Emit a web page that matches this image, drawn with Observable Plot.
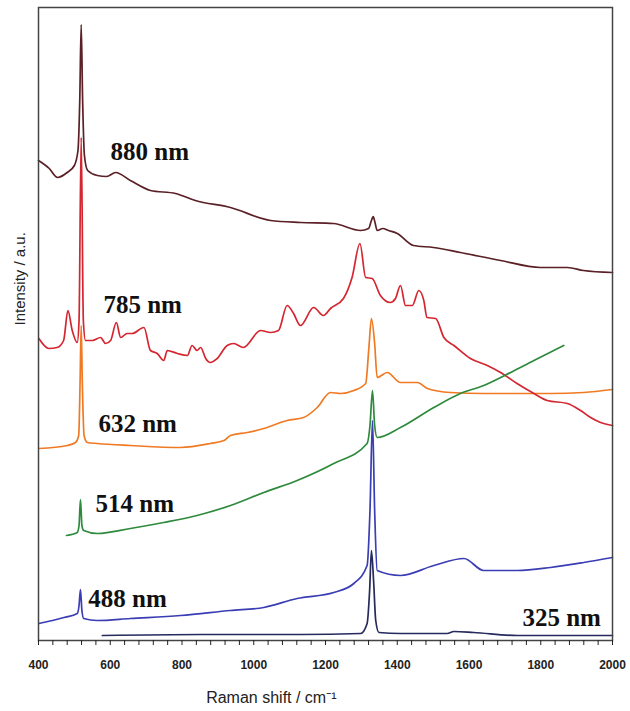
<!DOCTYPE html>
<html>
<head>
<meta charset="utf-8">
<script src="https://cdn.jsdelivr.net/npm/d3@7"></script>
<script src="https://cdn.jsdelivr.net/npm/@observablehq/plot@0.6"></script>
<style>
  html, body { margin: 0; padding: 0; background: #fff; }
  svg { font-family: "Liberation Sans", Arial, sans-serif; }
</style>
</head>
<body>
<div id="chart"></div>
<script>
// Raman shift (cm^-1) and intensity (a.u., offset stacked)
const s880 = [[400,480],[430,472],[453,463],[480,468],[500,475],[510,490],[515,540],[519,616],[523,540],[528,485],[537,470],[564,465],[590,464],[615,468],[656,460],[712,450],[782,447],[837,440],[935,433],[1047,420],[1130,418],[1222,417],[1298,410],[1320,412],[1328,420],[1333,424],[1338,418],[1344,410],[1360,412],[1376,410],[1400,407],[1445,395],[1501,393],[1576,388],[1688,380],[1799,373],[1875,373],[1919,370],[2000,368]];
const s785 = [[401,302],[429,292],[452,293],[470,300],[482,330],[494,310],[508,298],[513,320],[519,503],[525,320],[531,300],[550,300],[573,303],[587,297],[601,300],[617,318],[629,303],[647,307],[661,307],[694,313],[712,290],[731,287],[749,280],[759,290],[787,287],[815,285],[828,295],[842,290],[852,293],[866,282],[879,278],[898,282],[926,295],[944,297],[971,293],[1019,310],[1047,308],[1069,310],[1093,335],[1111,327],[1130,315],[1167,333],[1194,325],[1214,332],[1250,342],[1274,363],[1296,397],[1312,363],[1330,362],[1353,345],[1381,338],[1395,342],[1409,355],[1423,335],[1442,335],[1460,350],[1474,340],[1483,323],[1507,322],[1530,303],[1558,295],[1604,282],[1651,275],[1688,268],[1734,257],[1781,247],[1818,240],[1874,237],[1911,230],[1939,223],[1967,218],[2000,215]];
const s632 = [[401,192],[480,195],[503,198],[512,205],[516,260],[519,315],[522,260],[527,205],[536,198],[564,197],[656,195],[796,193],[879,197],[917,200],[935,205],[982,208],[1028,212],[1093,220],[1139,223],[1177,233],[1214,248],[1242,247],[1279,250],[1312,257],[1321,293],[1328,322],[1337,297],[1344,263],[1372,268],[1409,258],[1456,258],[1484,252],[1548,248],[1641,247],[1734,247],[1827,247],[1920,248],[2000,251]];
const s514 = [[478,105],[508,108],[513,115],[517,141],[521,115],[526,110],[564,107],[656,112],[749,118],[842,125],[935,135],[1028,148],[1121,160],[1223,177],[1316,197],[1324,215],[1331,250],[1337,215],[1344,203],[1409,213],[1502,233],[1576,247],[1641,255],[1716,268],[1781,280],[1864,295]];
const s488 = [[401,17],[471,23],[508,27],[513,35],[517,51],[521,30],[526,22],[564,20],[656,22],[796,25],[935,30],[1028,33],[1121,42],[1223,48],[1279,57],[1316,75],[1324,130],[1331,220],[1337,130],[1344,70],[1409,65],[1502,75],[1586,82],[1641,70],[1734,70],[1827,73],[1920,78],[2000,83]];
const s325 = [[578,5],[852,6],[1130,6],[1298,7],[1316,17],[1323,50],[1328,90],[1334,60],[1340,20],[1349,8],[1409,7],[1539,7],[1558,9],[1613,8],[1734,5],[2000,5]];

const seriesNames  = ["880 nm", "632 nm", "785 nm", "488 nm", "514 nm", "325 nm"];
const seriesData   = [s880, s632, s785, s488, s514, s325];
const seriesColors = ["#5a2026", "#f07a24", "#d42630", "#3a3db4", "#2e8a3c", "#262a5c"];

const labelText = ["880 nm", "785 nm", "632 nm", "514 nm", "488 nm", "325 nm"];
const labelX    = [601, 581, 567, 559, 539, 1749];
const labelY    = [489, 336, 217, 137, 42, 23];

const xMinorTicks = d3.range(400, 2001, 40);
const xMajorTicks = d3.range(400, 2001, 200);

const rows = [];
seriesData.forEach((s, i) => s.forEach(([x, y]) => rows.push({series: seriesNames[i], x, y})));
const labels = labelText.map((t, i) => ({t, x: labelX[i], y: labelY[i]}));

const chart = Plot.plot({
  width: 630,
  height: 711,
  marginLeft: 38,
  marginRight: 18,
  marginTop: 7,
  marginBottom: 71,
  x: {domain: [400, 2000]},
  y: {domain: [0, 633], axis: null},
  color: {domain: seriesNames, range: seriesColors},
  marks: [
    ...seriesNames.map((n, i) => Plot.line(rows.filter(r => r.series === n), {x: "x", y: "y", stroke: seriesColors[i], strokeWidth: 1.7, curve: "monotone-x"})),
    Plot.frame({stroke: "#444", strokeWidth: 1.5}),
    Plot.axisX({ticks: xMinorTicks, tickSize: 5, tickFormat: () => "", label: null, stroke: "#222"}),
    Plot.axisX({ticks: xMajorTicks, tickSize: 0, tickPadding: 20, tickFormat: d => String(d), label: null, fontSize: 12, fontWeight: "bold", fill: "#222"}),
    Plot.text(labels, {x: "x", y: "y", text: "t", textAnchor: "start", lineAnchor: "middle", fontFamily: "Liberation Serif, Times New Roman, serif", fontWeight: "bold", fontSize: 25, fill: "#111"}),
    Plot.text(["Raman shift / cm\u207B\u00B9"], {x: 1049, frameAnchor: "bottom", dy: 57, lineAnchor: "middle", fontSize: 16, fill: "#222"}),
    Plot.text(["Intensity / a.u."], {y: 315, frameAnchor: "left", dx: -18, rotate: -90, lineAnchor: "middle", fontSize: 15, fill: "#222"})
  ]
});
document.getElementById("chart").appendChild(chart);
</script>
</body>
</html>
